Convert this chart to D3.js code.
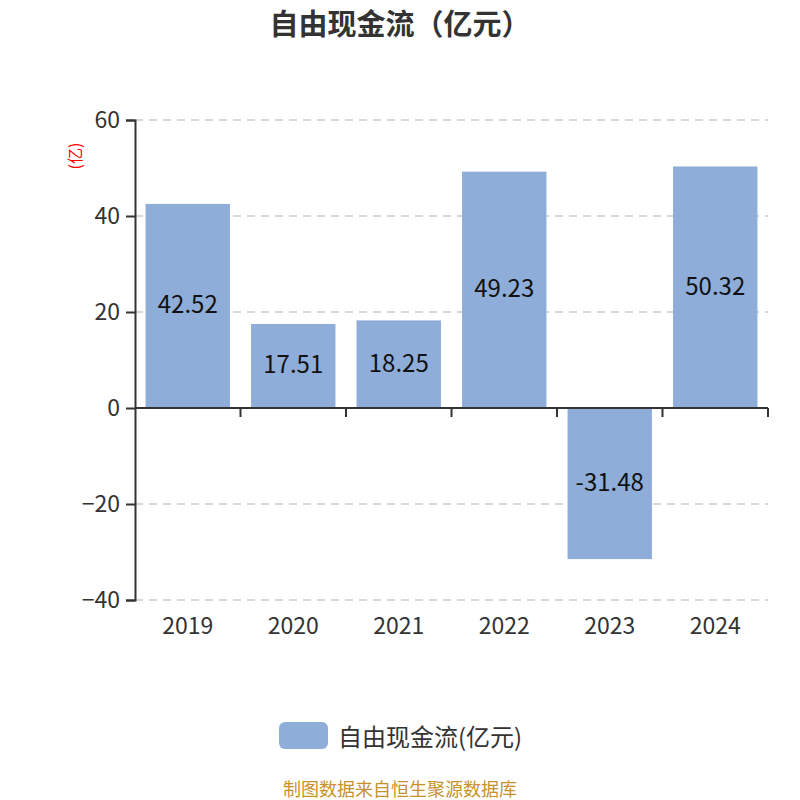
<!DOCTYPE html>
<html lang="zh">
<head>
<meta charset="UTF-8">
<title>自由现金流</title>
<script src="https://cdn.jsdelivr.net/npm/d3@7"></script>
<style>
  body { margin: 0; background: #fff; }
  svg { font-family: "Noto Sans CJK SC", "Noto Sans", sans-serif; }
</style>
</head>
<body>
<div id="chart"></div>
<script>
// chart data
const years = ['2019', '2020', '2021', '2022', '2023', '2024'];
const values = [42.52, 17.51, 18.25, 49.23, -31.48, 50.32];
const yTicks = [-40, -20, 0, 20, 40, 60];

const w = 800, h = 800;
const plotLeft = 135, plotRight = 768, plotTop = 120, plotBottom = 600;

const svg = d3.select('#chart').append('svg')
    .attr('width', w)
    .attr('height', h);

const x = d3.scaleBand()
    .domain(years)
    .range([plotLeft, plotRight])
    .paddingInner(0.2)
    .paddingOuter(0.1);

const y = d3.scaleLinear()
    .domain([-40, 60])
    .range([plotBottom, plotTop]);

// dashed grid lines
svg.append('g')
    .selectAll('line')
    .data(yTicks.filter(d => d !== 0))
    .enter()
    .append('line')
    .attr('x1', plotLeft)
    .attr('x2', plotRight)
    .attr('y1', d => y(d))
    .attr('y2', d => y(d))
    .attr('stroke', '#cccccc')
    .attr('stroke-width', 1.5)
    .attr('stroke-dasharray', '8,6');

// bars
svg.append('g')
    .selectAll('rect')
    .data(values)
    .enter()
    .append('rect')
    .attr('x', (d, i) => x(years[i]))
    .attr('width', x.bandwidth())
    .attr('y', d => y(Math.max(0, d)))
    .attr('height', d => Math.abs(y(d) - y(0)))
    .attr('fill', '#8eadd9');

// value labels in the middle of bars
svg.append('g')
    .selectAll('text')
    .data(values)
    .enter()
    .append('text')
    .attr('x', (d, i) => x(years[i]) + x.bandwidth() / 2)
    .attr('y', d => (y(d) + y(0)) / 2 - 3)
    .attr('text-anchor', 'middle')
    .attr('dominant-baseline', 'central')
    .attr('font-size', 24)
    .attr('fill', '#111')
    .text(d => d.toFixed(2));

// x axis line on zero
svg.append('line')
    .attr('x1', plotLeft)
    .attr('x2', plotRight)
    .attr('y1', y(0))
    .attr('y2', y(0))
    .attr('stroke', '#333')
    .attr('stroke-width', 2);

// x ticks at category boundaries
svg.append('g')
    .selectAll('line')
    .data(years)
    .enter()
    .append('line')
    .attr('x1', d => x(d) + x.bandwidth() + x.step() * x.paddingInner() / 2)
    .attr('x2', d => x(d) + x.bandwidth() + x.step() * x.paddingInner() / 2)
    .attr('y1', y(0))
    .attr('y2', y(0) + 9)
    .attr('stroke', '#333')
    .attr('stroke-width', 2);

// year labels at bottom
svg.append('g')
    .selectAll('text')
    .data(years)
    .enter()
    .append('text')
    .attr('x', d => x(d) + x.bandwidth() / 2)
    .attr('y', plotBottom + 34)
    .attr('text-anchor', 'middle')
    .attr('font-size', 23)
    .attr('fill', '#333')
    .text(d => d);

// y axis
const yAxis = d3.axisLeft(y).tickValues(yTicks).tickSize(9).tickPadding(6);
const gy = svg.append('g')
    .attr('transform', `translate(${plotLeft}, 0)`)
    .call(yAxis);
gy.select('.domain').attr('stroke', '#333').attr('stroke-width', 2);
gy.selectAll('.tick line').attr('stroke', '#333').attr('stroke-width', 2);
gy.selectAll('.tick text')
    .attr('font-size', 23)
    .attr('fill', '#333')
    .style('font-family', '"Noto Sans CJK SC", "Noto Sans", sans-serif');

// unit label
svg.append('text')
    .attr('transform', 'translate(74, 156) rotate(-90)')
    .attr('text-anchor', 'middle')
    .attr('dominant-baseline', 'central')
    .attr('font-size', 16)
    .attr('fill', 'red')
    .text('(亿)');

// title
svg.append('text')
    .attr('x', w / 2)
    .attr('y', 35)
    .attr('text-anchor', 'middle')
    .attr('font-size', 29)
    .attr('font-weight', 'bold')
    .attr('fill', '#333')
    .text('自由现金流（亿元）');

// legend
const legend = svg.append('g');
legend.append('rect')
    .attr('x', 279)
    .attr('y', 722)
    .attr('width', 49)
    .attr('height', 27)
    .attr('rx', 6)
    .attr('fill', '#8eadd9');
legend.append('text')
    .attr('x', 338)
    .attr('y', 735)
    .attr('dominant-baseline', 'central')
    .attr('font-size', 24)
    .attr('fill', '#333')
    .text('自由现金流(亿元)');

// source
svg.append('text')
    .attr('x', w / 2)
    .attr('y', 788)
    .attr('text-anchor', 'middle')
    .attr('dominant-baseline', 'central')
    .attr('font-size', 18)
    .attr('fill', '#c8922a')
    .text('制图数据来自恒生聚源数据库');
</script>
</body>
</html>
